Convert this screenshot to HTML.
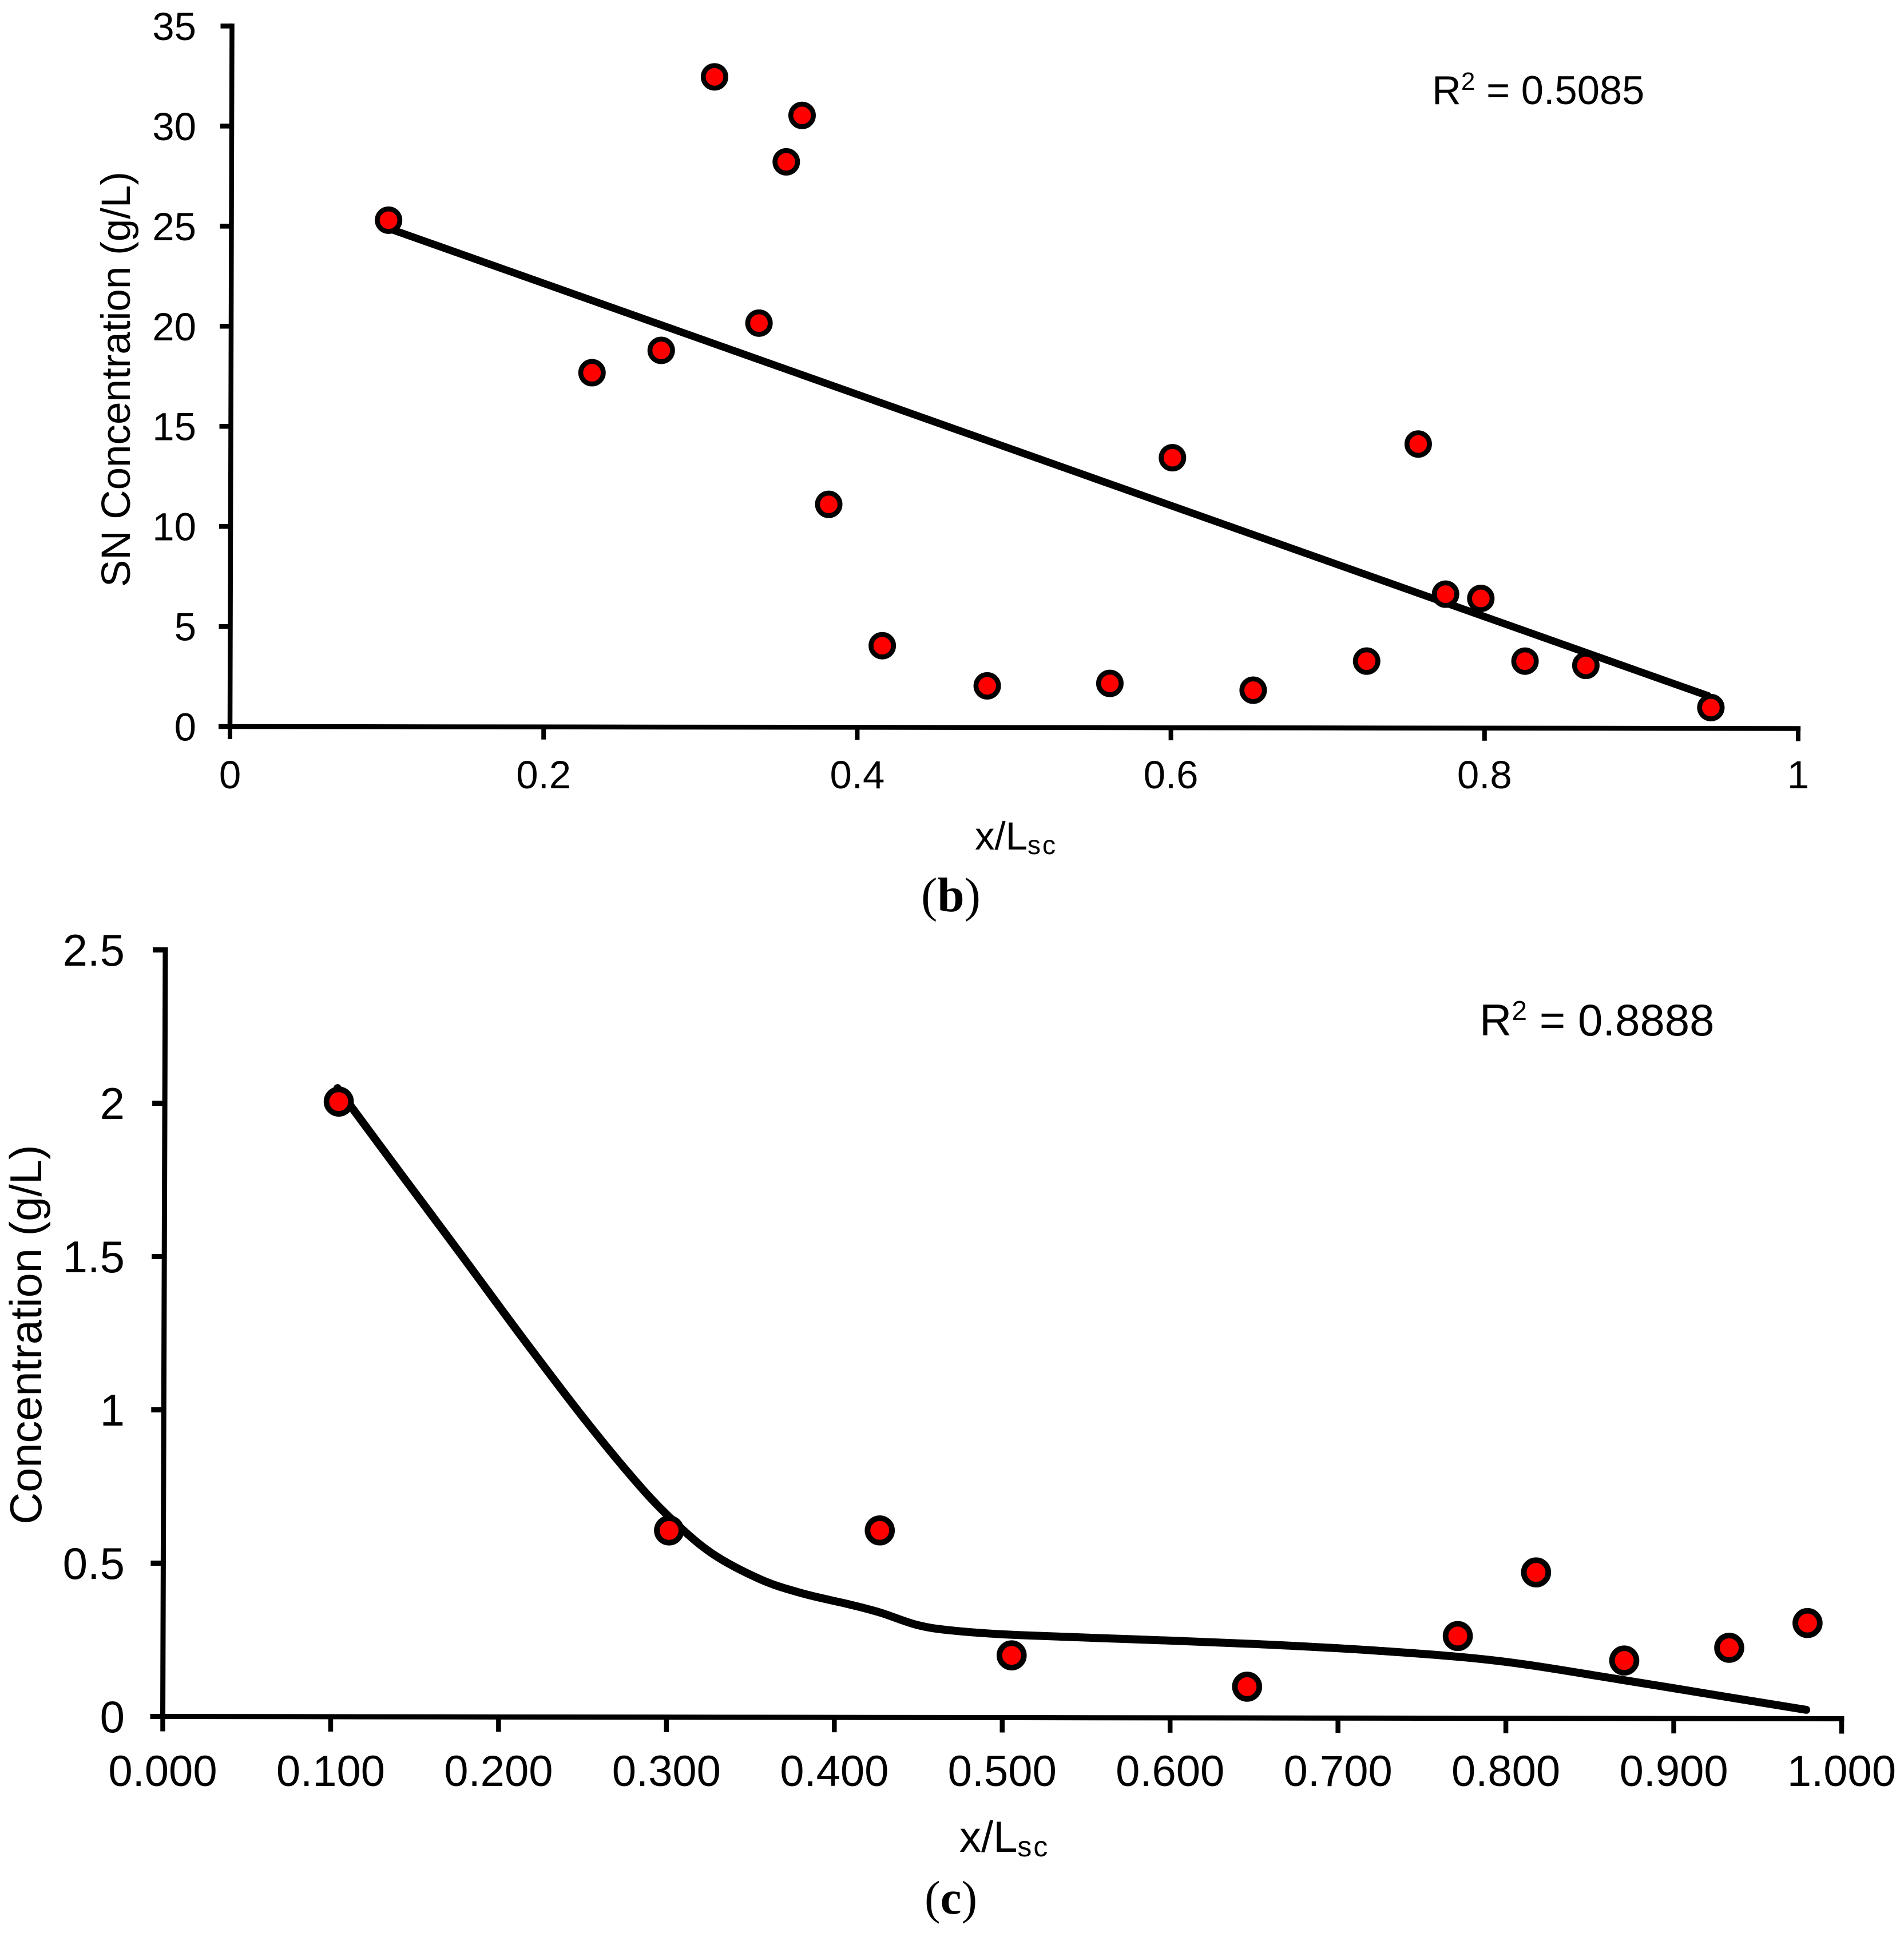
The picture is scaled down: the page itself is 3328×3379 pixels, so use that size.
<!DOCTYPE html>
<html lang="en">
<head>
<meta charset="utf-8">
<title>Concentration charts</title>
<style>
html,body{margin:0;padding:0;background:#fff;width:3328px;height:3379px;overflow:hidden}
svg{display:block}
text{font-family:"Liberation Sans",sans-serif;fill:#000}
.cap{font-family:"Liberation Serif",serif}
</style>
</head>
<body>
<svg id="figure" xmlns="http://www.w3.org/2000/svg" width="3328" height="3379" viewBox="0 0 3328 3379">
  <rect width="3328" height="3379" fill="#fff"/>

  <g id="chart-b"></g>
  <g id="chart-c"></g>

  <text transform="translate(227,663) rotate(-90)" text-anchor="middle" font-size="71">SN Concentration (g/L)</text>
  <text x="1704" y="1485" font-size="69">x/L<tspan font-size="46" letter-spacing="3" dy="8">sc</tspan></text>
  <text x="2503" y="182" font-size="70.5">R<tspan font-size="44" dy="-25">2</tspan><tspan dy="25"> = 0.5085</tspan></text>
  <text class="cap" x="1610" y="1593" font-size="85">(<tspan font-weight="bold">b</tspan>)</text>

  <text transform="translate(72,2333) rotate(-90)" text-anchor="middle" font-size="77.5">Concentration (g/L)</text>
  <text x="1677" y="3237" font-size="76">x/L<tspan font-size="50" letter-spacing="3" dy="8">sc</tspan></text>
  <text x="2586" y="1810" font-size="78">R<tspan font-size="48" dy="-27">2</tspan><tspan dy="27"> = 0.8888</tspan></text>
  <text class="cap" x="1616" y="3345" font-size="83">(<tspan font-weight="bold">c</tspan>)</text>
</svg>

<script>
// Chart (b) data
const bXTickValues = [0, 0.2, 0.4, 0.6, 0.8, 1];
const bXTickLabels = ["0", "0.2", "0.4", "0.6", "0.8", "1"];
const bYTickValues = [0, 5, 10, 15, 20, 25, 30, 35];
const bYTickLabels = ["0", "5", "10", "15", "20", "25", "30", "35"];
const bPointX = [0.1002, 0.2302, 0.2743, 0.3078, 0.3366, 0.3537, 0.3637, 0.3814, 0.4158, 0.4828, 0.5610, 0.6005, 0.6524, 0.7247, 0.7572, 0.7749, 0.7974, 0.8257, 0.8645, 0.9443];
const bPointY = [25.31, 17.70, 18.82, 32.49, 20.19, 28.25, 30.57, 11.14, 4.08, 2.08, 2.21, 13.49, 1.88, 3.34, 14.19, 6.69, 6.48, 3.35, 3.14, 1.04];
const bTrendX = [0.1002, 0.9424];
const bTrendY = [24.90, 1.63];

// Chart (c) data
const cXTickValues = [0, 0.1, 0.2, 0.3, 0.4, 0.5, 0.6, 0.7, 0.8, 0.9, 1];
const cXTickLabels = ["0.000", "0.100", "0.200", "0.300", "0.400", "0.500", "0.600", "0.700", "0.800", "0.900", "1.000"];
const cYTickValues = [0, 0.5, 1, 1.5, 2, 2.5];
const cYTickLabels = ["0", "0.5", "1", "1.5", "2", "2.5"];
const cPointX = [0.1036, 0.3012, 0.4267, 0.5055, 0.6458, 0.7712, 0.8177, 0.8704, 0.9329, 0.9795];
const cPointY = [2.006, 0.609, 0.610, 0.203, 0.102, 0.268, 0.476, 0.189, 0.231, 0.312];
const cCurveX = [0.1028, 0.1406, 0.1770, 0.2133, 0.2497, 0.2787, 0.3005, 0.3258, 0.3548, 0.3802, 0.4091, 0.4272, 0.4490, 0.4699, 0.5062, 0.5785, 0.6508, 0.7232, 0.7955, 0.8679, 0.9402, 0.9789];
const cCurveY = [2.050, 1.772, 1.506, 1.238, 0.978, 0.785, 0.657, 0.538, 0.452, 0.405, 0.368, 0.342, 0.302, 0.284, 0.270, 0.256, 0.241, 0.220, 0.187, 0.127, 0.063, 0.029];

const SVG_NS = "http://www.w3.org/2000/svg";

function makeEl(tag, attrs, parent) {
  const el = document.createElementNS(SVG_NS, tag);
  for (const k in attrs) el.setAttribute(k, attrs[k]);
  parent.appendChild(el);
  return el;
}

// Axis function: data -> pixel (the source figure is very slightly rotated)
function makeScale(cfg) {
  return function (x, y) {
    const xn = (x - cfg.xMin) / (cfg.xMax - cfg.xMin);
    const yn = (y - cfg.yMin) / (cfg.yMax - cfg.yMin);
    return [
      cfg.ox + cfg.w * xn + cfg.skewX * yn,
      cfg.oy - cfg.h * yn + cfg.skewY * xn
    ];
  };
}

function smoothPath(pts) {
  let d = "M" + pts[0][0].toFixed(1) + " " + pts[0][1].toFixed(1);
  for (let i = 0; i < pts.length - 1; i++) {
    const p0 = pts[Math.max(0, i - 1)];
    const p1 = pts[i];
    const p2 = pts[i + 1];
    const p3 = pts[Math.min(pts.length - 1, i + 2)];
    const c1x = p1[0] + (p2[0] - p0[0]) / 6;
    const c1y = p1[1] + (p2[1] - p0[1]) / 6;
    const c2x = p2[0] - (p3[0] - p1[0]) / 6;
    const c2y = p2[1] - (p3[1] - p1[1]) / 6;
    d += "C" + c1x.toFixed(1) + " " + c1y.toFixed(1) + " " + c2x.toFixed(1) + " " + c2y.toFixed(1) + " " + p2[0].toFixed(1) + " " + p2[1].toFixed(1);
  }
  return d;
}

function drawChart(o) {
  const g = document.getElementById(o.id);
  const S = o.scale;
  const xMin = o.xTicks[0], xMax = o.xTicks[o.xTicks.length - 1];
  const yMin = o.yTicks[0], yMax = o.yTicks[o.yTicks.length - 1];

  const o0 = S(xMin, yMin), xEnd = S(xMax, yMin), yEnd = S(xMin, yMax);

  const xAxis = makeEl("line", {x1: o0[0] - o.axisW / 2, y1: o0[1], x2: xEnd[0] + o.axisW / 2, y2: xEnd[1], stroke: "#000", "stroke-width": o.axisW}, g);
  
  

  const yAxis = makeEl("line", {x1: o0[0], y1: o0[1], x2: yEnd[0], y2: yEnd[1] - o.axisW / 2, stroke: "#000", "stroke-width": o.axisW}, g);
  
  

  o.xTicks.forEach(function (v, i) {
    const p = S(v, yMin);
    const t = makeEl("line", {x1: p[0], y1: p[1], x2: p[0], y2: p[1] + o.xTickLen, stroke: "#000", "stroke-width": o.axisW - 0.5}, g);
    
    
    const l = makeEl("text", {x: p[0], y: o.xLabelY, "text-anchor": "middle", "font-size": o.xFontSize}, g);
    
    
    l.textContent = o.xLabels[i];
  });

  o.yTicks.forEach(function (v, i) {
    const p = S(xMin, v);
    const t = makeEl("line", {x1: p[0], y1: p[1], x2: p[0] - o.yTickLen, y2: p[1], stroke: "#000", "stroke-width": o.axisW}, g);
    
    
    const l = makeEl("text", {x: o.yLabelX, y: p[1] + o.yFontSize * 0.355, "text-anchor": "end", "font-size": o.yFontSize}, g);
    
    
    l.textContent = o.yLabels[i];
  });

  const linePts = o.lineX.map(function (x, i) { return S(x, o.lineY[i]); });
  const fit = makeEl("path", {d: smoothPath(linePts), fill: "none", stroke: "#000", "stroke-width": o.lineW, "stroke-linecap": "round", "stroke-linejoin": "round"}, g);
  
  

  o.pointX.forEach(function (x, i) {
    const p = S(x, o.pointY[i]);
    const c = makeEl("circle", {cx: p[0], cy: p[1], r: o.markerR, fill: "#ff0000", stroke: "#000", "stroke-width": o.markerStroke}, g);
    
    
  });
}

drawChart({
  id: "chart-b",
  scale: makeScale({xMin: 0, xMax: 1, yMin: 0, yMax: 35, ox: 402, oy: 1270, w: 2741, h: 1224.5, skewX: 3.5, skewY: 3.5}),
  xTicks: bXTickValues, xLabels: bXTickLabels,
  yTicks: bYTickValues, yLabels: bYTickLabels,
  pointX: bPointX, pointY: bPointY,
  lineX: bTrendX, lineY: bTrendY,
  axisW: 8.5, xTickLen: 22, yTickLen: 20,
  xFontSize: 69, yFontSize: 69, xLabelY: 1378, yLabelX: 343,
  lineW: 13, markerR: 19.7, markerStroke: 8.6
});

drawChart({
  id: "chart-c",
  scale: makeScale({xMin: 0, xMax: 1, yMin: 0, yMax: 2.5, ox: 284.5, oy: 3000.5, w: 2934.5, h: 1340, skewX: 4.5, skewY: 4}),
  xTicks: cXTickValues, xLabels: cXTickLabels,
  yTicks: cYTickValues, yLabels: cYTickLabels,
  pointX: cPointX, pointY: cPointY,
  lineX: cCurveX, lineY: cCurveY,
  axisW: 9, xTickLen: 26, yTickLen: 22,
  xFontSize: 76, yFontSize: 78, xLabelY: 3122, yLabelX: 218,
  lineW: 14, markerR: 21.4, markerStroke: 9.8
});
</script>
</body>
</html>
